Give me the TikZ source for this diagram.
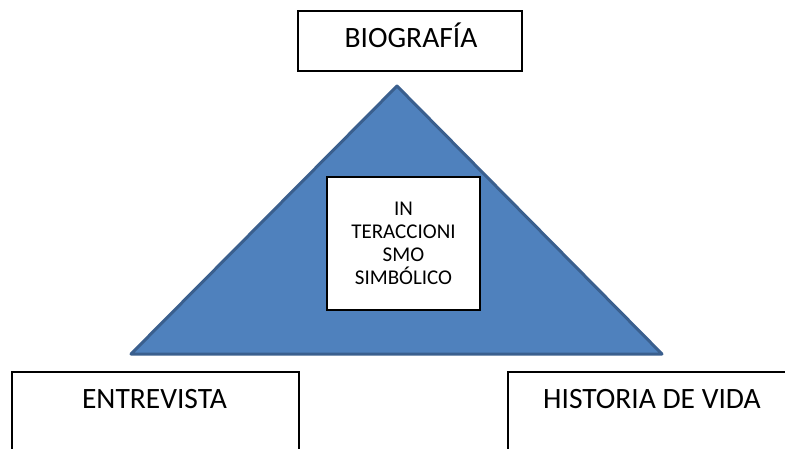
\documentclass[tikz,border=0pt]{standalone}
\usepackage{fontspec}
\setmainfont{Carlito}
\definecolor{trifill}{HTML}{4F81BD}
\definecolor{triline}{HTML}{3A5F8E}
\begin{document}
\begin{tikzpicture}[x=1pt,y=-1pt,
  box/.style={draw=black,line width=1.8pt,fill=white,inner sep=0pt},
  lbl/.style={font=\fontsize{29.5}{34}\selectfont,inner sep=0pt,anchor=base},
  inner/.style={draw=black,line width=1.2pt,fill=white,inner sep=0pt,
    font=\fontsize{21}{23}\selectfont,align=center}]
\useasboundingbox (0,0) rectangle (785,448);
\clip (0,0) rectangle (785,448);
% triangle
\coordinate (apex) at (397,86);
\coordinate (bl) at (131,354);
\coordinate (br) at (662,354);
\draw[fill=trifill,draw=triline,line width=3pt,line join=round] (apex) -- (br) -- (bl) -- cycle;
% top box
\node[box,minimum width=224,minimum height=60] (bio) at (410,41) {};
\node[lbl] (biot) at (411,47.5) {BIOGRAFÍA};
% bottom boxes
\node[box,anchor=north west,minimum width=287,minimum height=100] (ent) at (11,371) {};
\node[lbl] (entt) at (154.5,408.5) {ENTREVISTA};
\node[box,anchor=north west,minimum width=300,minimum height=100] (his) at (507,371) {};
\node[lbl] (hist) at (652,408.5) {HISTORIA DE VIDA};
% inner box
\node[inner,minimum width=153,minimum height=133] (sim) at (403.5,243.5) {IN\\TERACCIONI\\SMO\\SIMBÓLICO};
\end{tikzpicture}
\end{document}
